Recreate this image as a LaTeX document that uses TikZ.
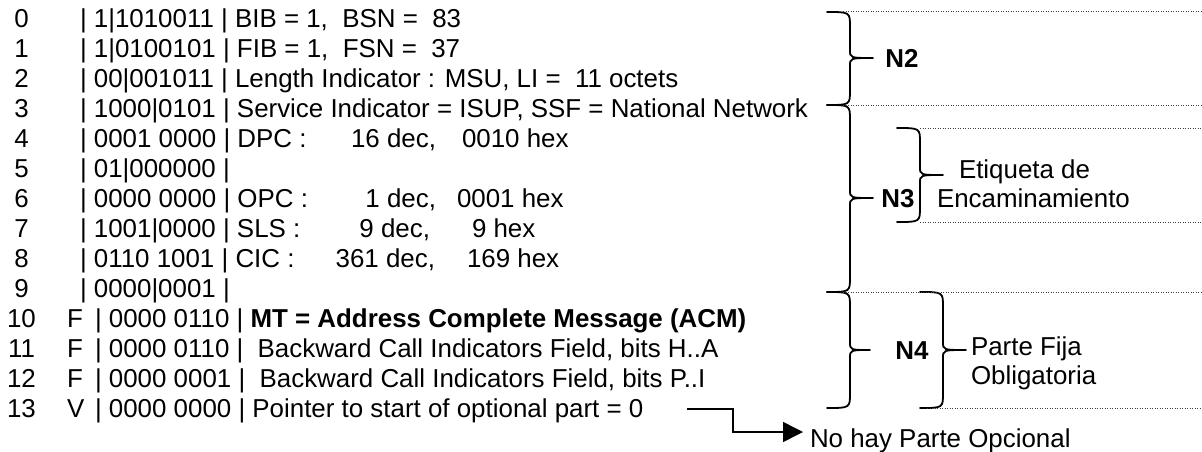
\documentclass[tikz,border=0pt]{standalone}
\usepackage{fontspec}
\setmainfont{Liberation Sans}
\usetikzlibrary{arrows.meta}
\tikzset{
 txt/.style={inner sep=0pt, outer sep=0pt, font=\fontsize{25.9pt}{29.5pt}\selectfont},
 lt/.style={txt, anchor=base west},
 rt/.style={txt, anchor=base east},
 num/.style={txt, anchor=base},
 lbl/.style={inner sep=0pt, outer sep=0pt, font=\fontsize{25.9pt}{29.5pt}\selectfont\bfseries, anchor=base},
 bracestyle/.style={line width=1.8pt, line join=round, line cap=round},
 dots/.style={line width=1pt, dash pattern=on 1.2pt off 1.3pt, black!75},
 arrowline/.style={line width=1.5pt, -{Triangle[length=20pt,width=20pt]}}
}
\newcommand\wbrace[6]{\draw[bracestyle] (#1,#4) .. controls (#2,#4) .. (#2,#4+15) -- (#2,#5-8) .. controls (#2,#5) .. (#3,#5) .. controls (#2,#5) .. (#2,#5+8) -- (#2,#6-15) .. controls (#2,#6) .. (#1,#6);}
\begin{document}
\begin{tikzpicture}[x=1pt,y=-1pt]
\useasboundingbox (0,0) rectangle (1202,452);
% row numbers
\foreach \r in {0,...,13} {
  \node[num] (n\r) at (21.5,27.5+30*\r) {\r};
}
% field markers
\node[lt] (f10) at (67,327.5) {F};
\node[lt] (f11) at (67,357.5) {F};
\node[lt] (f12) at (67,387.5) {F};
\node[lt] (f13) at (67,417.5) {V};
% rows
\node[lt] (r0) at (80,27.5) {| 1|1010011 | BIB = 1, ~BSN = ~83};
\node[lt] (r1) at (80,57.5) {| 1|0100101 | FIB = 1, ~FSN = ~37};
\node[lt] (r2) at (80,87.5) {| 00|001011 | Length Indicator : MSU, LI = ~11 octets};
\node[lt] (r3) at (80,117.5) {| 1000|0101 | Service Indicator = ISUP, SSF = National Network};
\node[lt] (r4) at (80,147.5) {| 0001 0000 | DPC :};
\node[rt] (r4d) at (436,147.5) {16 dec,};
\node[lt] (r4h) at (462,147.5) {0010 hex};
\node[lt] (r5) at (80,177.5) {| 01|000000 |};
\node[lt] (r6) at (80,207.5) {| 0000 0000 | OPC :};
\node[rt] (r6d) at (436,207.5) {1 dec,};
\node[lt] (r6h) at (457,207.5) {0001 hex};
\node[lt] (r7) at (80,237.5) {| 1001|0000 | SLS :};
\node[rt] (r7d) at (430,237.5) {9 dec,};
\node[lt] (r7h) at (472,237.5) {9 hex};
\node[lt] (r8) at (80,267.5) {| 0110 1001 | CIC :};
\node[rt] (r8d) at (435,267.5) {361 dec,};
\node[lt] (r8h) at (467,267.5) {169 hex};
\node[lt] (r9) at (80,297.5) {| 0000|0001 |};
\node[lt] (r10) at (95,327.5) {| 0000 0110 | \textbf{MT = Address Complete Message (ACM)}};
\node[lt] (r11) at (95,357.5) {| 0000 0110 | ~Backward Call Indicators Field, bits H..A};
\node[lt] (r12) at (95,387.5) {| 0000 0001 | ~Backward Call Indicators Field, bits P..I};
\node[lt] (r13) at (95,417.5) {| 0000 0000 | Pointer to start of optional part = 0};
% braces
\wbrace{827}{850}{873}{12}{58}{105}
\wbrace{827}{850}{873}{105}{198}{292}
\wbrace{827}{850}{870}{292}{350}{408}
\wbrace{897}{920}{943}{128}{175}{222}
\wbrace{920}{943}{966}{292}{350}{408}
% dotted guide lines
\draw[dots] (843,12) -- (1202,12);
\draw[dots] (843,105) -- (1202,105);
\draw[dots] (920,128) -- (1202,128);
\draw[dots] (920,222) -- (1202,222);
\draw[dots] (843,292) -- (1202,292);
\draw[dots] (927,408) -- (1202,408);
% labels
\node[lbl] (N2) at (902,67) {N2};
\node[lbl] (N3) at (898,207) {N3};
\node[lbl] (N4) at (912,359) {N4};
\node[lt] (et1) at (959,178) {Etiqueta de};
\node[lt] (et2) at (937,207) {Encaminamiento};
\node[lt] (pf1) at (971,355) {Parte Fija};
\node[lt] (pf2) at (971,384) {Obligatoria};
\node[lt] (nohay) at (810,447) {No hay Parte Opcional};
% arrow
\coordinate (arrS) at (687,409);
\coordinate (arrE) at (803,432);
\draw[arrowline] (arrS) -- (733,409) |- (arrE);
\end{tikzpicture}
\end{document}
